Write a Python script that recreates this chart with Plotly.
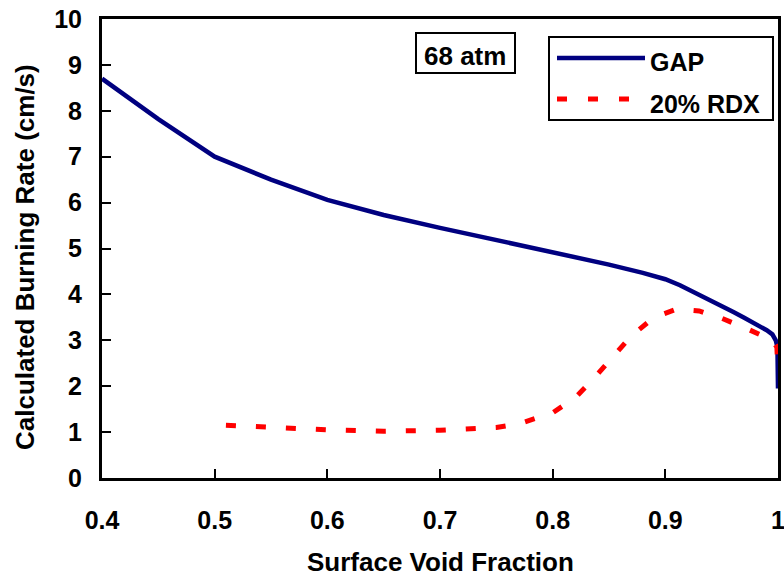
import plotly.graph_objects as go

gap_x = [0.4, 0.45, 0.5, 0.55, 0.6, 0.65, 0.7, 0.75, 0.8, 0.85, 0.88, 0.9, 0.913, 0.93, 0.95, 0.96, 0.97, 0.98, 0.99, 0.995, 0.998, 0.9995, 1.0]
gap_y = [8.7, 7.82, 7.0, 6.5, 6.06, 5.73, 5.45, 5.19, 4.92, 4.65, 4.47, 4.33, 4.2, 4.0, 3.75, 3.62, 3.49, 3.36, 3.22, 3.13, 3.0, 2.85, 1.95]

rdx_x = [0.51, 0.55, 0.6, 0.65, 0.7, 0.75, 0.77, 0.8, 0.82, 0.835, 0.85, 0.87, 0.89, 0.91, 0.93, 0.95, 0.97, 0.985, 0.995, 0.999, 1.0]
rdx_y = [1.15, 1.1, 1.05, 1.02, 1.04, 1.1, 1.18, 1.42, 1.75, 2.13, 2.55, 3.1, 3.5, 3.68, 3.64, 3.48, 3.28, 3.12, 3.0, 2.85, 2.3]

x_ticks = [0.4, 0.5, 0.6, 0.7, 0.8, 0.9, 1.0]
x_tick_text = ["0.4", "0.5", "0.6", "0.7", "0.8", "0.9", "1"]
y_ticks = list(range(0, 11))

FONT = "Liberation Sans, Arial, sans-serif"

# plot-area geometry in pixels (for placing decorations)
L, R, T, B = 102, 778, 19, 478
W, H = R - L, B - T
def px(x): return (x - L) / W
def py(y): return (B - y) / H

fig = go.Figure()
fig.add_trace(go.Scatter(x=gap_x, y=gap_y, mode="lines", name="GAP",
                         line=dict(color="#000080", width=4.5), showlegend=False))
fig.add_trace(go.Scatter(x=rdx_x, y=rdx_y, mode="lines", name="20% RDX",
                         line=dict(color="#ff0000", width=5, dash="10px,20px"), showlegend=False))

axis_common = dict(showline=True, linecolor="black", linewidth=3, mirror=True,
                   ticks="inside", ticklen=9, tickwidth=2, tickcolor="black",
                   showgrid=False, zeroline=False, automargin=False,
                   ticklabeloverflow="allow",
                   tickfont=dict(family=FONT, size=25, color="black", weight="bold"))

fig.update_xaxes(range=[0.4, 1.0], tickvals=x_ticks, ticktext=x_tick_text,
                 ticklabelstandoff=18, **axis_common)
fig.update_yaxes(range=[0, 10], tickvals=y_ticks, ticklabelstandoff=12, **axis_common)

# axis titles
fig.add_annotation(xref="paper", yref="paper", x=0.5, y=py(562), xanchor="center", yanchor="middle",
                   text="Surface Void Fraction", showarrow=False,
                   font=dict(family=FONT, size=26, color="black", weight="bold"))
fig.add_annotation(xref="paper", yref="paper", x=px(25), y=py(257), xanchor="center", yanchor="middle",
                   text="Calculated Burning Rate (cm/s)", showarrow=False, textangle=-90,
                   font=dict(family=FONT, size=26, color="black", weight="bold"))

# custom legend
fig.add_shape(type="rect", xref="paper", yref="paper", x0=px(549), x1=px(773), y0=py(120), y1=py(37),
              line=dict(color="black", width=2), fillcolor="white", layer="above")
fig.add_shape(type="line", xref="paper", yref="paper", x0=px(557), x1=px(645),
              y0=py(58), y1=py(58), line=dict(color="#000080", width=4.5), layer="above")
fig.add_shape(type="line", xref="paper", yref="paper", x0=px(557), x1=px(632),
              y0=py(99), y1=py(99), line=dict(color="#ff0000", width=5, dash="10px,21px"), layer="above")
fig.add_annotation(xref="paper", yref="paper", x=px(648), y=py(62), xanchor="left", yanchor="middle",
                   text="GAP", showarrow=False,
                   font=dict(family=FONT, size=25, color="black", weight="bold"))
fig.add_annotation(xref="paper", yref="paper", x=px(648), y=py(104), xanchor="left", yanchor="middle",
                   text="20% RDX", showarrow=False,
                   font=dict(family=FONT, size=25, color="black", weight="bold"))
# pressure label
fig.add_shape(type="rect", xref="paper", yref="paper", x0=px(416), x1=px(515), y0=py(73), y1=py(33),
              line=dict(color="black", width=2), fillcolor="white", layer="above")
fig.add_annotation(xref="paper", yref="paper", x=px(465), y=py(56), xanchor="center", yanchor="middle",
                   text="68 atm", showarrow=False,
                   font=dict(family=FONT, size=26, color="black", weight="bold"))

fig.update_layout(width=784, height=577, margin=dict(l=L, r=784 - R, t=T, b=577 - B),
                  plot_bgcolor="white", paper_bgcolor="white")

fig.write_html("out.html")
